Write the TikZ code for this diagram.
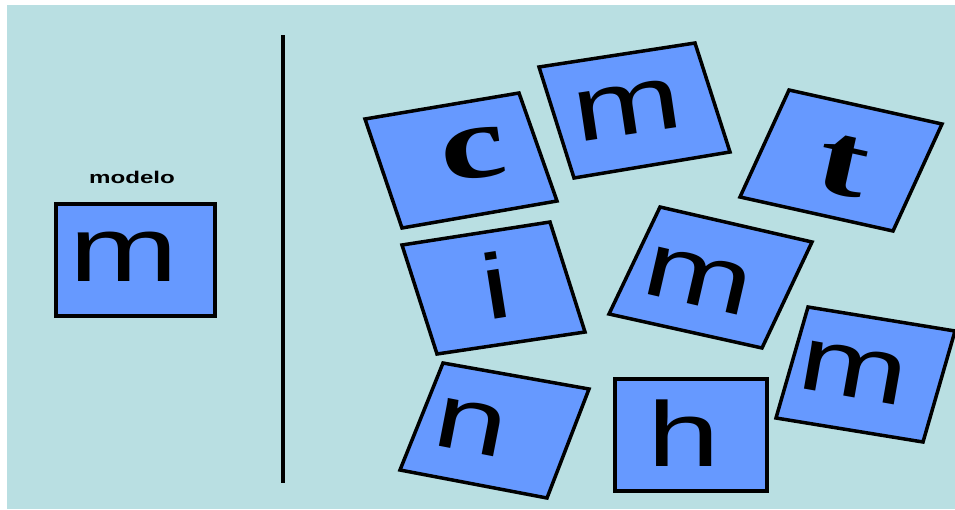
\documentclass[tikz,border=0pt]{standalone}
\usepackage{fontspec}
\newfontfamily\cartesans{Liberation Sans}
\newfontfamily\carteserif{Liberation Serif}
\definecolor{fond}{HTML}{B9DFE2}
\definecolor{bleucarte}{HTML}{6699FF}

\begin{document}
\begin{tikzpicture}[x=1pt, y=-1pt,
    carte/.style={draw=black, line width=3.5pt, fill=bleucarte},
    lettre/.style={inner sep=0pt, font=\cartesans\fontsize{92}{92}\selectfont},
    lettreserif/.style={inner sep=0pt, font=\carteserif\bfseries\fontsize{104}{104}\selectfont}]

    % --- Cadre et fond ---
    \useasboundingbox (0,0) rectangle (955,509);
    \fill[fond] (7,5) rectangle (955,509);

    % --- Séparateur vertical ---
    \coordinate (sepHaut) at (283,35);
    \coordinate (sepBas) at (283,483);
    \draw[line width=4pt] (sepHaut) -- (sepBas);

    % ==============================================================
    % MODELE (à gauche)
    % ==============================================================
    \node[font=\cartesans\bfseries\fontsize{17}{17}\selectfont, xscale=1.42] (modelo) at (132,177) {modelo};
    \draw[carte] (56,204) rectangle (215,316);
    \node[lettre, xscale=1.42] (mModelo) at (124,257) {m};

    % ==============================================================
    % CARTES MELANGEES (à droite)
    % ==============================================================
    % Carte c
    \draw[carte] (365,119) -- (519,93) -- (557,201) -- (402,228) -- cycle;
    \node[lettreserif, rotate=8, xscale=1.42] (c) at (474,154) {c};

    % Carte m (haut)
    \draw[carte] (539,67) -- (695,43) -- (730,152) -- (574,178) -- cycle;
    \node[lettre, rotate=8.5, xscale=1.42] (mHaut) at (628,110) {m};

    % Carte t
    \draw[carte] (789,90) -- (942,124) -- (893,231) -- (740,197) -- cycle;
    \node[lettreserif, rotate=-12.5, xscale=1.42] (t) at (843,166) {t};

    % Carte i
    \draw[carte] (402,245) -- (550,222) -- (585,332) -- (437,354) -- cycle;
    \node[lettre, rotate=9, xscale=1.42] (i) at (496,285) {i};

    % Carte m (milieu)
    \draw[carte] (660,207) -- (812,242) -- (762,348) -- (609,314) -- cycle;
    \node[lettre, rotate=-13, xscale=1.42] (mMilieu) at (698,281) {m};

    % Carte m (droite)
    \draw[carte] (808,307) -- (955,331) -- (923,442) -- (776,418) -- cycle;
    \node[lettre, rotate=-10, xscale=1.42] (mDroite) at (853,373) {m};

    % Carte n
    \draw[carte] (443,363) -- (589,389) -- (547,498) -- (400,470) -- cycle;
    \node[lettre, rotate=-11, xscale=1.42] (n) at (471,427) {n};

    % Carte h (droite, non tournée)
    \draw[carte] (615,379) rectangle (767,491);
    \node[lettre, xscale=1.42] (h) at (684,433) {h};

\end{tikzpicture}
\end{document}
